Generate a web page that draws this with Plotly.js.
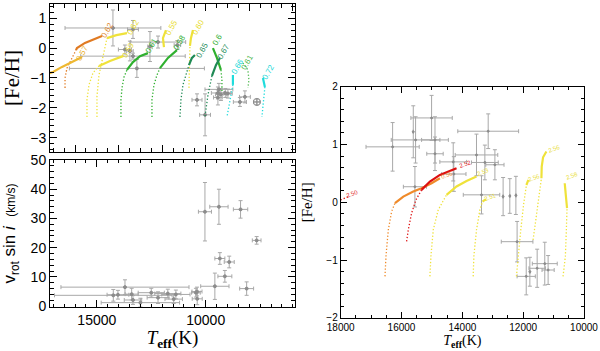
<!DOCTYPE html>
<html>
<head>
<meta charset="utf-8">
<script src="https://cdn.plot.ly/plotly-3.0.1.min.js"></script>
<style>html,body{margin:0;padding:0;background:#fff}</style>
</head>
<body>
<div id="chart" style="width:600px;height:351px"></div>
<script>
// ---------- top-left panel: [Fe/H] vs Teff ----------
var tlStarT    = [14260, 13340, 13710, 13480, 12560, 12190, 11300, 13340, 13160, 10400, 10030, 9393, 9440, 9300, 9100, 8980, 9440, 8430, 8200];
var tlStarFe   = [0.67, 0.62, -0.05, -0.1, 0.05, 0.2, 0.1, -0.27, -0.68, -1.73, -2.23, -1.38, -1.5, -1.55, -1.5, -1.52, -1.65, -1.8, -1.63];
var tlStarTerr = [2200, 250, 300, 150, 100, 1270, 150, 2400, 3100, 230, 250, 640, 300, 250, 250, 200, 200, 300, 250];
var tlStarFerr = [0.6, 0.3, 0.15, 0.33, 0.5, 0.2, 0.15, 0.1, 0.3, 0.2, 0.7, 0.2, 0.2, 0.2, 0.15, 0.15, 0.25, 0.15, 0.2];
var tlOddT = [7650], tlOddFe = [-1.8], tlOddTerr = [150], tlOddFerr = [0.1];

// model tracks, [Teff, FeH] pairs
var tlOrangeDot    = [[16460,-1.33],[16460,-1.0],[16370,-0.67],[16186,-0.4],[15957,-0.07]];
var tlOrangeSolid  = [[15957,-0.07],[15911,0.0],[15544,0.17],[15176,0.27],[14763,0.4]];
var tlGoldSolid    = [[17300,-0.87],[17012,-0.8],[16599,-0.63],[16140,-0.47],[15681,-0.3]];
var tlYellow1Dot   = [[15452,-2.3],[15452,-1.73],[15360,-1.23],[15176,-0.83],[14901,-0.6]];
var tlYellow1Solid = [[14901,-0.6],[14396,-0.43],[13799,-0.27]];
var tlYellow2Dot   = [[14993,-2.3],[14993,-1.6],[14900,-0.9],[14680,-0.1],[14534,0.33]];
var tlYellow2Solid = [[14534,0.33],[14100,0.43],[13616,0.5]];
var tlGreen1Dot    = [[13891,-2.3],[13891,-1.73],[13845,-1.33],[13753,-0.97],[13616,-0.73]];
var tlGreen1Solid  = [[13616,-0.73],[13340,-0.47],[13019,-0.27],[12652,-0.17]];
var tlYellow3Solid = [[11917,0.03],[11963,0.33],[11826,0.6]];
var tlGreen2Dot    = [[12468,-2.3],[12468,-1.73],[12376,-1.23],[12239,-0.9],[12100,-0.67]];
var tlGreen2Solid  = [[12100,-0.67],[11734,-0.33],[11321,-0.07]];
var tlYellow4Dot   = [[10770,-1.33],[10724,-0.4],[10724,0.07]];
var tlYellow4Solid = [[10724,0.07],[10678,0.33],[10587,0.6]];
var tlDkGreenDot   = [[11183,-2.3],[11137,-1.73],[11045,-1.23],[10907,-0.9],[10770,-0.57]];
var tlDkGreenSolid = [[10770,-0.57],[10632,-0.33],[10495,-0.23]];
var tlGreen3Solid  = [[9668,0.0],[9485,-0.33],[9301,-0.73]];
var tlGreen3Dot    = [[9301,-0.73],[9255,-1.07],[9255,-1.47]];
var tlGreen4Solid  = [[9347,-0.33],[9530,-0.57],[9714,-0.93]];
var tlGreen4Dot    = [[9714,-0.93],[9898,-1.57],[10036,-2.3]];
var tlCyan1Solid   = [[8750,-0.9],[8750,-1.23]];
var tlCyan1Dot     = [[8750,-1.23],[8888,-1.73],[9025,-2.3]];
var tlGreen5Dot    = [[8291,-0.5],[8062,-0.73],[8016,-1.07],[8062,-1.33]];
var tlCyan2Solid   = [[7373,-1.0],[7282,-1.3]];
var tlCyan2Dot     = [[7282,-1.3],[7327,-1.73],[7419,-2.3]];

var tlLabelText = ['0.62', '0.57', '0.59', '0.62', '0.61', '0.55', '0.58', '0.60', '0.65', '0.6', '0.67', '0.66', '0.61', '0.72'];
var tlLabelT    = [14534, 15681, 13570, 13340, 12468, 11550, 11183, 10357, 10173, 9439, 9163, 8521, 8108, 7144];
var tlLabelFe   = [0.6, -0.17, -0.07, 0.7, 0.07, 0.67, 0.17, 0.7, -0.07, 0.27, -0.13, -0.63, -0.47, -0.8];
var tlLabelCol  = ['#e08a30', '#e8b030', '#e8dc30', '#e8dc30', '#33b033', '#e8dc30', '#33b033', '#e8dc30', '#2a9060', '#33b033', '#2a9060', '#22d8d8', '#55bb55', '#22d8d8'];

// ---------- bottom-left panel: vrot sin i vs Teff ----------
var blT    = [10035, 9393, 8400, 7660, 9350, 8920, 9120, 9580, 8120, 10390, 10400, 13707, 14244, 14030, 13400, 13340, 12500, 12190, 11740, 11470, 11370, 10450, 13000];
var blV    = [32.3, 34.0, 33.1, 22.5, 16.3, 15.1, 10.2, 6.8, 6.0, 2.5, 5.0, 6.5, 3.7, 3.9, 4.1, 2.1, 4.6, 2.9, 4.3, 2.4, 4.0, 4.6, 1.2];
var blTerr = [300, 420, 330, 200, 230, 230, 320, 650, 320, 230, 230, 2940, 2700, 500, 300, 400, 600, 500, 600, 400, 650, 200, 1800];
var blVerr = [10, 6, 3, 1.3, 2, 2, 2, 4.5, 2.3, 2, 1.5, 2.5, 2, 1.5, 2, 1.5, 1.5, 2, 1.5, 1.5, 1.5, 1.5, 1.5];

// ---------- right panel: [Fe/H] vs Teff ----------
var rStarT    = [16293, 15614, 15538, 15560, 15012, 14900, 14900, 14300, 14280, 13535, 13150, 13260, 12930, 13370, 12660, 12440, 12240, 12200, 11900, 11780, 11540, 11290, 11180];
var rStarFe   = [0.96, 1.22, 1.08, 0.27, 1.46, 1.08, 0.84, 0.70, 0.49, 0.82, 1.23, 0.69, 0.65, 0.13, 0.10, 0.11, 0.12, -0.68, -1.28, -1.20, -1.14, -1.06, -1.17];
var rStarTerr = [875, 0, 800, 380, 680, 440, 270, 440, 400, 700, 1000, 440, 300, 600, 0, 0, 0, 520, 300, 0, 270, 410, 200];
var rStarFerr = [0.42, 0.45, 0.40, 0.35, 0.39, 0.40, 0.29, 0.33, 0.30, 0.36, 0.30, 0.30, 0.26, 0.33, 0.33, 0.30, 0.33, 0.35, 0.32, 0.25, 0.33, 0.37, 0.25];

var rRedShort     = [[18300,-0.03],[17750,0.1]];
var rRedDot       = [[15833,-0.676],[15778,-0.475],[15669,-0.187],[15527,0.043],[15341,0.216]];
var rRedSolid     = [[15341,0.216],[15067,0.36],[14739,0.475],[14410,0.55],[14191,0.59]];
var rOrangeDot    = [[16544,-1.28],[16512,-0.935],[16435,-0.475],[16326,-0.158],[16216,-0.014]];
var rOrangeSolid  = [[16216,-0.014],[15942,0.10],[15614,0.187],[15341,0.245],[15012,0.33],[14739,0.417]];
var rYellow1Dot   = [[15067,-1.28],[15034,-0.935],[14957,-0.475],[14793,-0.13],[14520,0.13]];
var rYellow1Solid = [[14520,0.13],[14191,0.274],[13863,0.37],[13535,0.446]];
var rYellow2Dot   = [[13644,-1.28],[13622,-0.935],[13535,-0.475],[13425,-0.13],[13338,0.014]];
var rYellow2Solid = [[13338,0.014],[13228,0.055]];
var rYellow3Dot   = [[12222,-1.28],[12167,-0.935],[12079,-0.475],[11981,-0.014],[11894,0.30]];
var rYellow3Solid = [[11894,0.30],[11828,0.39]];
var rYellow4Dot   = [[11674,-0.65],[11587,-0.30],[11499,0.043],[11400,0.417]];
var rYellow4Solid = [[11400,0.417],[11390,0.62],[11346,0.78],[11237,0.88]];
var rYellow5Dot   = [[10689,-1.28],[10613,-0.935],[10580,-0.475],[10558,-0.10]];
var rYellow5Solid = [[10558,-0.10],[10602,0.16],[10634,0.33]];

var rLabelText = ['2.50', '2.52', '0.56', '2.53', '2.51', '2.56', '2.56', '2.58'];
var rLabelT    = [17640, 13900, 14500, 13320, 13080, 11660, 11000, 10410];
var rLabelFe   = [0.15, 0.67, 0.47, 0.52, 0.1, 0.42, 0.93, 0.45];
var rLabelCol  = ['#e02020', '#e02020', '#f09030', '#e8dc30', '#e8dc30', '#e8dc30', '#e8dc30', '#e8dc30'];

// ticks
var leftLongTicks = [16000, 14000, 12000, 10000, 8000, 6000];
var leftTickVals = [15000, 10000];
var leftTickText = ['15000', '10000'];

var ORANGE = '#e07a22', GOLD = '#eeb830', YELLOW = '#efe23a', GREEN = '#2fb02f',
    DKGREEN = '#1f8a55', CYAN = '#20dcdc', LTGREEN = '#55bb55', RED = '#dd1010', RORANGE = '#ef8a2a';
var GRAY = '#a8a8a8';

function line(pts, color, dotted, xa, ya) {
  return {
    x: pts.map(function(p) { return p[0]; }),
    y: pts.map(function(p) { return p[1]; }),
    xaxis: xa, yaxis: ya, mode: 'lines', hoverinfo: 'skip',
    line: {color: color, width: dotted ? 1.3 : 2.2, dash: dotted ? '1.3px,2px' : 'solid'}
  };
}

function stars(x, y, ex, ey, xa, ya, symbol, size) {
  return {
    x: x, y: y, xaxis: xa, yaxis: ya, mode: 'markers',
    marker: {color: '#8c8c8c', size: size || 3, symbol: symbol || 'circle', line: {color: '#8c8c8c', width: 1}},
    error_x: {type: 'data', array: ex, color: GRAY, thickness: 1, width: 2},
    error_y: {type: 'data', array: ey, color: GRAY, thickness: 1, width: 2}
  };
}

var data = [
  stars(tlStarT, tlStarFe, tlStarTerr, tlStarFerr, 'x', 'y'),
  stars(tlOddT, tlOddFe, tlOddTerr, tlOddFerr, 'x', 'y', 'circle-cross-open', 7),
  line(tlOrangeDot, ORANGE, true, 'x', 'y'),
  line(tlOrangeSolid, ORANGE, false, 'x', 'y'),
  line(tlGoldSolid, GOLD, false, 'x', 'y'),
  line(tlYellow1Dot, YELLOW, true, 'x', 'y'),
  line(tlYellow1Solid, YELLOW, false, 'x', 'y'),
  line(tlYellow2Dot, YELLOW, true, 'x', 'y'),
  line(tlYellow2Solid, YELLOW, false, 'x', 'y'),
  line(tlGreen1Dot, GREEN, true, 'x', 'y'),
  line(tlGreen1Solid, GREEN, false, 'x', 'y'),
  line(tlYellow3Solid, YELLOW, false, 'x', 'y'),
  line(tlGreen2Dot, GREEN, true, 'x', 'y'),
  line(tlGreen2Solid, GREEN, false, 'x', 'y'),
  line(tlYellow4Dot, YELLOW, true, 'x', 'y'),
  line(tlYellow4Solid, YELLOW, false, 'x', 'y'),
  line(tlDkGreenDot, DKGREEN, true, 'x', 'y'),
  line(tlDkGreenSolid, DKGREEN, false, 'x', 'y'),
  line(tlGreen3Solid, GREEN, false, 'x', 'y'),
  line(tlGreen3Dot, GREEN, true, 'x', 'y'),
  line(tlGreen4Solid, DKGREEN, false, 'x', 'y'),
  line(tlGreen4Dot, DKGREEN, true, 'x', 'y'),
  line(tlCyan1Solid, CYAN, false, 'x', 'y'),
  line(tlCyan1Dot, CYAN, true, 'x', 'y'),
  line(tlGreen5Dot, LTGREEN, true, 'x', 'y'),
  line(tlCyan2Solid, CYAN, false, 'x', 'y'),
  line(tlCyan2Dot, CYAN, true, 'x', 'y'),

  stars(blT, blV, blTerr, blVerr, 'x2', 'y2'),

  stars(rStarT, rStarFe, rStarTerr, rStarFerr, 'x3', 'y3', 'circle', 2),
  line(rRedShort, RED, true, 'x3', 'y3'),
  line(rOrangeDot, RORANGE, true, 'x3', 'y3'),
  line(rOrangeSolid, RORANGE, false, 'x3', 'y3'),
  line(rRedDot, RED, true, 'x3', 'y3'),
  line(rRedSolid, RED, false, 'x3', 'y3'),
  line(rYellow1Dot, YELLOW, true, 'x3', 'y3'),
  line(rYellow1Solid, YELLOW, false, 'x3', 'y3'),
  line(rYellow2Dot, YELLOW, true, 'x3', 'y3'),
  line(rYellow2Solid, YELLOW, false, 'x3', 'y3'),
  line(rYellow3Dot, YELLOW, true, 'x3', 'y3'),
  line(rYellow3Solid, YELLOW, false, 'x3', 'y3'),
  line(rYellow4Dot, YELLOW, true, 'x3', 'y3'),
  line(rYellow4Solid, YELLOW, false, 'x3', 'y3'),
  line(rYellow5Dot, YELLOW, true, 'x3', 'y3'),
  line(rYellow5Solid, YELLOW, false, 'x3', 'y3')
];

var annotations = [];
tlLabelText.forEach(function(t, i) {
  annotations.push({xref: 'x', yref: 'y', x: tlLabelT[i], y: tlLabelFe[i], text: t, showarrow: false,
    textangle: -60, font: {family: 'Liberation Sans, sans-serif', size: 8, color: tlLabelCol[i]}});
});
rLabelText.forEach(function(t, i) {
  annotations.push({xref: 'x3', yref: 'y3', x: rLabelT[i], y: rLabelFe[i], text: t, showarrow: false,
    textangle: -20, font: {family: 'Liberation Sans, sans-serif', size: 6, color: rLabelCol[i]}});
});

var SANS = 'Liberation Sans, Arial, sans-serif';
var SERIF = 'Liberation Serif, Times New Roman, serif';

function axis(o) {
  var base = {
    showline: true, linecolor: '#000', linewidth: 1, mirror: 'allticks',
    ticks: 'inside', ticklen: 7, tickcolor: '#000', tickwidth: 1,
    showgrid: false, zeroline: false,
    tickfont: {family: SANS, size: 14, color: '#000'}
  };
  for (var k in o) base[k] = o[k];
  return base;
}

var layout = {
  width: 600, height: 351,
  margin: {l: 50, r: 16, t: 4, b: 33},
  paper_bgcolor: '#fff', plot_bgcolor: '#fff',
  showlegend: false,
  xaxis: axis({domain: [0, 0.4588], anchor: 'y', range: [17150, 5900],
    tickmode: 'array', tickvals: leftLongTicks, showticklabels: false,
    minor: {ticks: 'inside', ticklen: 3.5, tickcolor: '#000', dtick: 500, tick0: 0}}),
  yaxis: axis({domain: [0.5287, 1], anchor: 'x', range: [-3.47, 1.47], dtick: 1,
    minor: {ticks: 'inside', ticklen: 3.5, tickcolor: '#000', dtick: 0.2, tick0: 0},
    title: {text: '[Fe/H]', font: {family: SERIF, size: 21, color: '#000'}, standoff: 10}}),
  xaxis2: axis({domain: [0, 0.4588], anchor: 'y2', range: [17150, 5900],
    tickmode: 'array', tickvals: leftTickVals, ticktext: leftTickText,
    minor: {ticks: 'inside', ticklen: 3.5, tickcolor: '#000', dtick: 500, tick0: 0},
    title: {text: '<i>T</i><sub><b>eff</b></sub>(K)', font: {family: SERIF, size: 19, color: '#000'}, standoff: 5}}),
  yaxis2: axis({domain: [0.035, 0.5032], anchor: 'x2', range: [-0.3, 50], dtick: 10,
    minor: {ticks: 'inside', ticklen: 3.5, tickcolor: '#000', dtick: 2, tick0: 0},
    title: {text: 'v<sub>rot</sub> sin <i>i</i>  <span style="font-size:12px">(km/s)</span>', font: {family: SANS, size: 17, color: '#000'}, standoff: 10}}),
  xaxis3: axis({domain: [0.5444, 1], anchor: 'y3', range: [18000, 10000], dtick: 2000, tickformat: 'd',
    tickfont: {family: SANS, size: 10, color: '#000'}, ticklen: 6,
    minor: {ticks: 'inside', ticklen: 3, tickcolor: '#000', dtick: 500, tick0: 0},
    title: {text: '<i>T</i><sub><b>eff</b></sub>(K)', font: {family: SERIF, size: 14, color: '#000'}, standoff: 2}}),
  yaxis3: axis({domain: [0, 0.7366], anchor: 'x3', range: [-2, 2], dtick: 1,
    tickfont: {family: SANS, size: 10, color: '#000'}, ticklen: 6,
    minor: {ticks: 'inside', ticklen: 3, tickcolor: '#000', dtick: 0.2, tick0: 0},
    title: {text: '[Fe/H]', font: {family: SERIF, size: 15, color: '#000'}, standoff: 10}}),
  annotations: annotations
};

Plotly.newPlot('chart', data, layout, {displayModeBar: false, staticPlot: true});
</script>
</body>
</html>
